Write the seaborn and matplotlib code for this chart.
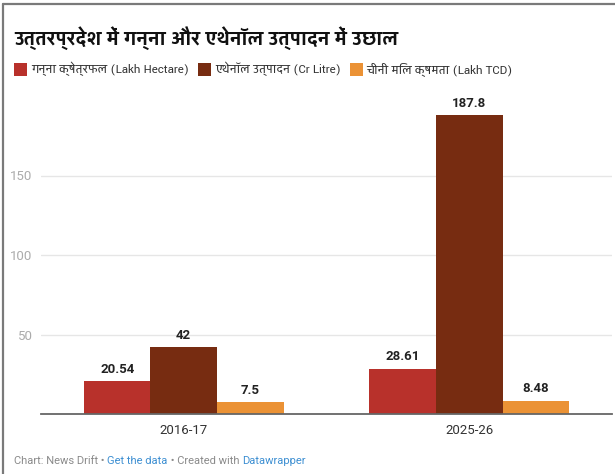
import matplotlib
matplotlib.use("Agg")
import matplotlib.pyplot as plt
import seaborn as sns
import pandas as pd
from matplotlib.patches import Rectangle
from matplotlib.lines import Line2D

# ---- data ----
years = ["2016-17", "2025-26"]
series = ["गन्ना क्षेत्रफल (Lakh Hectare)",
          "एथेनॉल उत्पादन (Cr Litre)",
          "चीनी मिल क्षमता (Lakh TCD)"]
cane_area = [20.54, 28.61]
ethanol = [42, 187.8]
mill_capacity = [7.5, 8.48]
colors = ["#b8312b", "#772c11", "#eb9235"]
yticks = [50, 100, 150]

rows = []
for s, vals in zip(series, [cane_area, ethanol, mill_capacity]):
    for y, v in zip(years, vals):
        rows.append({"year": y, "series": s, "value": v})
df = pd.DataFrame(rows)

sns.set_theme(style="white")
HINDI = ["Yantramanav", "Noto Sans Devanagari", "DejaVu Sans"]
LATIN = ["Roboto", "DejaVu Sans"]
plt.rcParams["font.family"] = LATIN

W, H = 615, 474
fig = plt.figure(figsize=(W / 100, H / 100), dpi=100)
fig.patch.set_facecolor("white")

# axes placement (pixels)
ax_left, ax_right = 41, 612
y0_px = 414
ymax = 200
px_per_unit = (414 - 175.5) / 150
ax_h = ymax * px_per_unit
ax = fig.add_axes([ax_left / W, (H - y0_px) / H, (ax_right - ax_left) / W, ax_h / H])

sns.barplot(data=df, x="year", y="value", hue="series", order=years,
            hue_order=series, palette=colors, width=0.70, gap=0,
            saturation=1, legend=False, ax=ax, linewidth=0)

ax.set_xlim(-0.5, 1.5)
ax.set_ylim(0, ymax)
ax.set_yticks(yticks)
ax.set_yticklabels([str(t) for t in yticks])
ax.yaxis.grid(True, color="#e6e6e6", linewidth=1)
ax.set_axisbelow(True)
for s in ["top", "right", "left"]:
    ax.spines[s].set_visible(False)
ax.spines["bottom"].set_color("#666666")
ax.spines["bottom"].set_linewidth(1.3)
ax.set_xlabel("")
ax.set_ylabel("")
ax.tick_params(axis="y", length=0, pad=6, labelsize=9.5, labelcolor="#ababab")
ax.tick_params(axis="x", length=0, pad=7, labelsize=9.5, labelcolor="#333333")

for cont in ax.containers:
    ax.bar_label(cont, fmt="{:g}", padding=4, fontsize=9.5, fontweight="bold",
                 color="#222222")

# frame of the screenshot
fig.add_artist(Line2D([3 / W, 3 / W], [0, 1 - 4 / H], color="#7a7a7a", linewidth=1.6,
                      transform=fig.transFigure))
fig.add_artist(Line2D([3 / W, 1], [1 - 4 / H, 1 - 4 / H], color="#7a7a7a", linewidth=1.6,
                      transform=fig.transFigure))

# title
fig.text(14 / W, 1 - 38 / H, "उत्तरप्रदेश में गन्ना और एथेनॉल उत्पादन में उछाल",
         family=HINDI, fontweight="bold", fontsize=14.5, color="#111111",
         va="center", ha="left")

# legend
fig.canvas.draw()
renderer = fig.canvas.get_renderer()
x = 14
ly = 69
sq = 13
for s, c in zip(series, colors):
    fig.add_artist(Rectangle((x / W, 1 - (ly + sq / 2) / H), sq / W, sq / H,
                             facecolor=c, edgecolor="none", transform=fig.transFigure))
    t = fig.text((x + sq + 4) / W, 1 - ly / H, s, family=HINDI, fontsize=9.2,
                 color="#333333", va="center", ha="left")
    bb = t.get_window_extent(renderer)
    x = bb.x1 + 9

# footer
parts = [("Chart: News Drift", "#8a8a8a"), (" • ", "#8a8a8a"), ("Get the data", "#3d8fd2"),
         (" • Created with ", "#8a8a8a"), ("Datawrapper", "#3d8fd2")]
x = 14
for txt, c in parts:
    t = fig.text(x / W, 1 - 461 / H, txt, fontsize=8, color=c, va="center", ha="left",
                 family=LATIN)
    bb = t.get_window_extent(renderer)
    x = bb.x1

fig.savefig("out.png", dpi=100, facecolor="white")
